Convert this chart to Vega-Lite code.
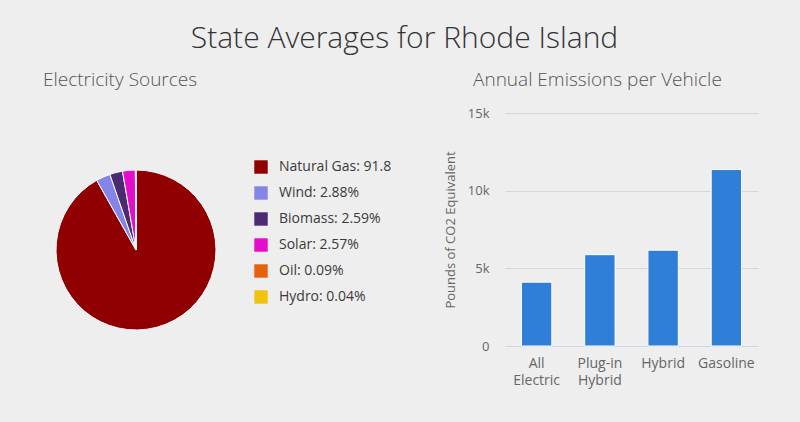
{
  "$schema": "https://vega.github.io/schema/vega-lite/v6.json",
  "background": "#eeeeee",
  "padding": {"left": 43, "top": 24, "right": 53, "bottom": 37},
  "title": {"text": "State Averages for Rhode Island", "fontSize": 30, "font": "Open Sans", "fontWeight": 300, "color": "#333333", "anchor": "middle", "offset": 17, "dx": 4},
  "config": {
    "view": {"stroke": null},
    "font": "Open Sans",
    "style": {"guide-label": {"ellipsis": "\u200b"}}
  },
  "resolve": {"scale": {"color": "independent"}, "legend": {"color": "independent"}},
  "spacing": 5,
  "hconcat": [
    {
      "width": 160,
      "height": 274,
      "title": {"text": "Electricity Sources", "fontSize": 19, "fontWeight": 300, "color": "#555555", "anchor": "start", "dx": -11, "offset": 23},
      "data": {"values": [
        {"label": "Natural Gas: 91.83%", "share": 91.83, "rank": 1},
        {"label": "Wind: 2.88%", "share": 2.88, "rank": 2},
        {"label": "Biomass: 2.59%", "share": 2.59, "rank": 3},
        {"label": "Solar: 2.57%", "share": 2.57, "rank": 4},
        {"label": "Oil: 0.09%", "share": 0.09, "rank": 5},
        {"label": "Hydro: 0.04%", "share": 0.04, "rank": 6}
      ]},
      "mark": {"type": "arc", "stroke": "white", "strokeWidth": 1},
      "encoding": {
        "theta": {"field": "share", "type": "quantitative", "stack": true},
        "order": {"field": "rank", "type": "quantitative"},
        "color": {
          "field": "label", "type": "nominal",
          "scale": {
            "domain": ["Natural Gas: 91.83%", "Wind: 2.88%", "Biomass: 2.59%", "Solar: 2.57%", "Oil: 0.09%", "Hydro: 0.04%"],
            "range": ["#900000", "#8585e8", "#4b2a74", "#e40ccd", "#e8600a", "#f0c30f"]
          },
          "legend": {
            "title": null, "orient": "right", "offset": -9, "padding": 47,
            "symbolType": "square", "symbolSize": 180, "symbolStrokeWidth": 0,
            "labelFontSize": 14, "labelColor": "#3a3a3a", "labelLimit": 116,
            "rowPadding": 12, "labelOffset": 11
          }
        }
      }
    },
    {
      "width": 253,
      "height": 233,
      "title": {"text": "Annual Emissions per Vehicle", "fontSize": 19, "fontWeight": 300, "color": "#555555", "anchor": "start", "frame": "group", "dx": -32, "offset": 17},
      "data": {"values": [
        {"vehicle": "All Electric", "emissions": 4110},
        {"vehicle": "Plug-in Hybrid", "emissions": 5880},
        {"vehicle": "Hybrid", "emissions": 6170},
        {"vehicle": "Gasoline", "emissions": 11360}
      ]},
      "mark": {"type": "bar", "color": "#2f7ed8", "stroke": "white", "strokeWidth": 1},
      "encoding": {
        "x": {
          "field": "vehicle", "type": "nominal", "sort": null,
          "scale": {"paddingInner": 0.52, "paddingOuter": 0.26},
          "axis": {"title": null, "labelAngle": 0, "labelExpr": "split(datum.label, ' ')", "labelFontSize": 14, "labelColor": "#666666", "domainColor": "#ccd6eb", "ticks": false, "labelPadding": 10, "labelLineHeight": 17}
        },
        "y": {
          "field": "emissions", "type": "quantitative",
          "scale": {"domain": [0, 15000]},
          "axis": {"values": [0, 5000, 10000, 15000], "labelExpr": "datum.value == 0 ? '0' : (datum.value / 1000) + 'k'", "title": "Pounds of CO2 Equivalent", "domain": false, "ticks": false, "gridColor": "#d6d6d6", "labelFontSize": 13, "labelColor": "#666666", "titleFontSize": 13, "titleFontWeight": "normal", "titleColor": "#666666", "labelPadding": 16, "titlePadding": 10}
        }
      }
    }
  ]
}
